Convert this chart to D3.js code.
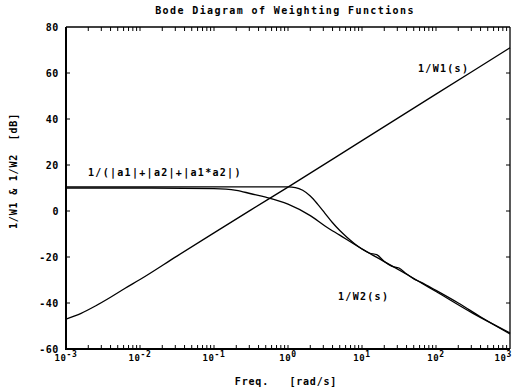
<!DOCTYPE html>
<html>
<head>
<meta charset="utf-8">
<script src="https://cdn.jsdelivr.net/npm/d3@7"></script>
<style>
  html, body { margin: 0; padding: 0; background: #fff; }
  svg { display: block; }
  text { font-family: "DejaVu Sans Mono", monospace; font-weight: bold; fill: #000; }
</style>
</head>
<body>
<svg id="chart" width="513" height="391"></svg>
<script>
// 1/W1(s): performance weight inverse
const w1Freq = [0.001, 0.0016, 0.0025, 0.004, 0.0063, 0.01, 0.0316, 0.1, 0.316, 1, 10, 100, 1000];
const w1Db   = [-47, -44.5, -41.3, -37.5, -33.6, -29.8, -19.6, -9.5, 0.5, 10.4, 30.6, 50.8, 71];

// 1/W2(s): robustness weight inverse
const w2Freq = [0.001, 0.01, 0.1, 0.2, 0.316, 0.5, 1, 2, 3.16, 5, 10, 20, 40, 100, 316, 1000];
const w2Db   = [10, 10, 9.7, 9, 7.5, 6, 3, -2, -6.5, -10.5, -16.5, -22, -27.5, -35, -44.5, -53];

// 1/(|a1|+|a2|+|a1*a2|): uncertainty bound
const dFreq = [0.001, 0.1, 1, 1.26, 1.58, 2, 2.51, 3.16, 3.98, 5.01, 6.31, 7.94, 10, 12.6, 15.8, 20, 25.1, 31.6, 39.8, 50.1, 63.1, 100, 200, 398, 1000];
const dDb   = [10.5, 10.5, 10.5, 10.2, 9, 6.5, 3, -1, -5, -8.5, -11.5, -14.2, -16.5, -18.3, -19, -22, -24, -24.8, -27.3, -29.5, -31, -34.5, -40, -46, -53.5];

const yTicks = [80, 60, 40, 20, 0, -20, -40, -60];
const xDecades = [-3, -2, -1, 0, 1, 2, 3];

const svg = d3.select("#chart");
const plotL = 66, plotR = 510, plotT = 27, plotB = 349;

const x = d3.scaleLog().domain([1e-3, 1e3]).range([plotL, plotR]);
const y = d3.scaleLinear().domain([-60, 80]).range([plotB, plotT]);

// title
svg.append("text")
  .attr("x", 285).attr("y", 14)
  .attr("text-anchor", "middle")
  .style("font-size", "10px").style("letter-spacing", "1.4px")
  .text("Bode Diagram of Weighting Functions");

// minor/major log ticks on top and bottom
const xTickVals = [];
for (let e = -3; e < 3; e++) {
  for (let m = 1; m <= 9; m++) {
    const v = m * Math.pow(10, e);
    if (v > 1e-3 && v < 1e3) xTickVals.push(v);
  }
}
const g = svg.append("g");
g.selectAll("line.xb").data(xTickVals).join("line")
  .attr("x1", d => x(d)).attr("x2", d => x(d))
  .attr("y1", plotB).attr("y2", plotB - 4)
  .attr("stroke", "#000").attr("stroke-width", 1);
g.selectAll("line.xt").data(xTickVals).join("line")
  .attr("x1", d => x(d)).attr("x2", d => x(d))
  .attr("y1", plotT).attr("y2", plotT + 4)
  .attr("stroke", "#000").attr("stroke-width", 1);

// y ticks on left and right
const inner = yTicks.filter(t => t > -60 && t < 80);
g.selectAll("line.yl").data(inner).join("line")
  .attr("x1", plotL).attr("x2", plotL + 4)
  .attr("y1", d => y(d)).attr("y2", d => y(d))
  .attr("stroke", "#000").attr("stroke-width", 1);
g.selectAll("line.yr").data(inner).join("line")
  .attr("x1", plotR).attr("x2", plotR - 4)
  .attr("y1", d => y(d)).attr("y2", d => y(d))
  .attr("stroke", "#000").attr("stroke-width", 1);

// frame
svg.append("line").attr("x1", plotL).attr("x2", plotR).attr("y1", plotT).attr("y2", plotT)
  .attr("stroke", "#000").attr("stroke-width", 1.3);
svg.append("line").attr("x1", plotR).attr("x2", plotR).attr("y1", plotT).attr("y2", plotB)
  .attr("stroke", "#000").attr("stroke-width", 1.3);
svg.append("line").attr("x1", plotL).attr("x2", plotL).attr("y1", plotT).attr("y2", plotB + 1)
  .attr("stroke", "#000").attr("stroke-width", 2);
svg.append("line").attr("x1", plotL).attr("x2", plotR).attr("y1", plotB).attr("y2", plotB)
  .attr("stroke", "#000").attr("stroke-width", 2);

// y tick labels
svg.selectAll("text.ylab").data(yTicks).join("text")
  .attr("x", 59).attr("y", d => y(d) + 3.5)
  .attr("text-anchor", "end")
  .style("font-size", "10px").style("letter-spacing", "0.6px")
  .text(d => d);

// x tick labels: 10 with superscript exponent; the last one is kept inside the page
const xl = svg.selectAll("text.xlab").data(xDecades).join("text")
  .attr("x", d => d === 3 ? 512 : x(Math.pow(10, d)))
  .attr("y", 361)
  .attr("text-anchor", d => d === 3 ? "end" : "middle")
  .style("font-size", "9px").style("letter-spacing", "0.6px");
xl.append("tspan").text("10");
xl.append("tspan").attr("dy", -4).style("font-size", "8px").text(d => d < 0 ? "-" + (-d) : d);

// axis titles
svg.append("text")
  .attr("x", 286).attr("y", 385)
  .attr("text-anchor", "middle")
  .style("font-size", "10px").style("letter-spacing", "0.8px")
  .attr("xml:space", "preserve")
  .text("Freq.   [rad/s]");
svg.append("text")
  .attr("transform", "translate(17,171) rotate(-90)")
  .attr("text-anchor", "middle")
  .style("font-size", "10px").style("letter-spacing", "0.8px")
  .attr("xml:space", "preserve")
  .text("1/W1 & 1/W2  [dB]");

// curves
const line = d3.line()
  .x(d => x(d[0])).y(d => y(d[1]))
  .curve(d3.curveMonotoneX);
const series = [
  d3.zip(w1Freq, w1Db),
  d3.zip(w2Freq, w2Db),
  d3.zip(dFreq, dDb)
];
svg.append("g").selectAll("path").data(series).join("path")
  .attr("d", line)
  .attr("fill", "none")
  .attr("stroke", "#000")
  .attr("stroke-width", 1.3);

// curve labels
const labels = [
  { t: "1/W1(s)", x: 418, y: 72 },
  { t: "1/(|a1|+|a2|+|a1*a2|)", x: 88, y: 176 },
  { t: "1/W2(s)", x: 338, y: 300 }
];
svg.selectAll("text.clab").data(labels).join("text")
  .attr("x", d => d.x).attr("y", d => d.y)
  .style("font-size", "10px").style("letter-spacing", "1.3px")
  .text(d => d.t);
</script>
</body>
</html>
